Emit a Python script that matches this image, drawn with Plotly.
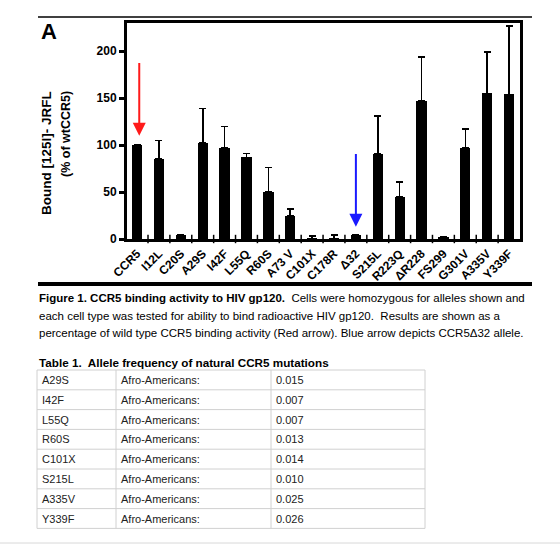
import plotly.graph_objects as go

W, H = 560, 544

# ---- chart data ----
categories = ["CCR5", "I12L", "C20S", "A29S", "I42F", "L55Q", "R60S", "A73 V", "C101X",
              "C178R", "\u039432", "S215L", "R223Q", "\u0394R228", "FS299", "G301V", "A335V", "Y339F"]
binding = [100, 85, 4, 102, 97, 87, 50, 25, 0.5, 0.5, 4, 91, 45, 147, 2, 97, 155, 154]
binding_err = [0, 20, 0, 37, 23, 4, 26, 7, 2.5, 3.5, 0, 40, 16, 47, 0, 20, 44, 73]
y_ticks = [0, 50, 100, 150, 200]

red_arrow = dict(cat=0.1, tip=110, tail=189)
blue_arrow = dict(cat=10, tip=13, tail=92)

# ---- table data ----
table_title = "Table 1.  Allele frequency of natural CCR5 mutations"
alleles = ["A29S", "I42F", "L55Q", "R60S", "C101X", "S215L", "A335V", "Y339F"]
populations = ["Afro-Americans:"] * 8
frequencies = ["0.015", "0.007", "0.007", "0.013", "0.014", "0.010", "0.025", "0.026"]

caption_lines = [
    "<b>Figure 1. CCR5 binding activity to HIV gp120.</b>  Cells were homozygous for alleles shown and",
    "each cell type was tested for ability to bind radioactive HIV gp120.  Results are shown as a",
    "percentage of wild type CCR5 binding activity (Red arrow). Blue arrow depicts CCR5\u039432 allele.",
]

FONT = "Liberation Sans, Arial, sans-serif"

def px(x):
    return x / W

def py(y):
    return 1 - y / H

fig = go.Figure()
fig.add_bar(
    x=list(range(len(categories))), y=binding, width=0.47,
    marker=dict(color="black", line=dict(width=0)),
    error_y=dict(type="data", array=binding_err, arrayminus=[0] * len(binding_err),
                 symmetric=False, color="black", thickness=1.6, width=3.5),
)

ann = []
# arrows
for arr, col in [(red_arrow, "#ff1a1a"), (blue_arrow, "#1a1aff")]:
    ann.append(dict(xref="x", yref="y", axref="x", ayref="y", x=arr["cat"], y=arr["tip"],
                    ax=arr["cat"], ay=arr["tail"], text="", showarrow=True, arrowhead=2,
                    arrowsize=1.3, arrowwidth=2, arrowcolor=col))

# panel letter
ann.append(dict(xref="paper", yref="paper", x=px(39), y=py(31), text="<b>A</b>", showarrow=False,
                xanchor="left", yanchor="middle", font=dict(size=22, color="black", family=FONT)))
# y-axis title (two lines)
ann.append(dict(xref="paper", yref="paper", x=px(46), y=py(153), text="<b>Bound [125I]- JRFL</b>",
                showarrow=False, textangle=-90, xanchor="center", yanchor="middle",
                font=dict(size=13.5, color="black", family=FONT)))
ann.append(dict(xref="paper", yref="paper", x=px(66), y=py(134), text="<b>(% of wtCCR5)</b>",
                showarrow=False, textangle=-90, xanchor="center", yanchor="middle",
                font=dict(size=12.5, color="black", family=FONT)))

# caption
for i, line in enumerate(caption_lines):
    ann.append(dict(xref="paper", yref="paper", x=px(37), y=py(298 + 17.5 * i), text=line,
                    showarrow=False, xanchor="left", yanchor="middle",
                    font=dict(size=11.5, color="black", family=FONT)))

# table title
ann.append(dict(xref="paper", yref="paper", x=px(37), y=py(362), text="<b>" + table_title + "</b>",
                showarrow=False, xanchor="left", yanchor="middle",
                font=dict(size=11.7, color="black", family=FONT)))

shapes = []
# separators
shapes.append(dict(type="line", xref="paper", yref="paper", x0=px(38), x1=px(532), y0=py(17), y1=py(17),
                   line=dict(color="black", width=1.5)))
shapes.append(dict(type="line", xref="paper", yref="paper", x0=px(38), x1=px(532), y0=py(284), y1=py(284),
                   line=dict(color="black", width=4)))
shapes.append(dict(type="line", xref="paper", yref="paper", x0=0, x1=1, y0=py(543), y1=py(543),
                   line=dict(color="#d8d8d8", width=1)))

# table
t_top, row_h = 370, 19.8
col_x = [37, 116, 271, 425]
n_rows = len(alleles)
for i in range(n_rows + 1):
    yy = t_top + i * row_h
    shapes.append(dict(type="line", xref="paper", yref="paper", x0=px(col_x[0]), x1=px(col_x[-1]),
                       y0=py(yy), y1=py(yy), line=dict(color="#d0d0d0", width=1)))
for cx in col_x:
    shapes.append(dict(type="line", xref="paper", yref="paper", x0=px(cx), x1=px(cx),
                       y0=py(t_top), y1=py(t_top + n_rows * row_h), line=dict(color="#d0d0d0", width=1)))
for i, row in enumerate(zip(alleles, populations, frequencies)):
    yc = t_top + (i + 0.5) * row_h
    for j, txt in enumerate(row):
        ann.append(dict(xref="paper", yref="paper", x=px(col_x[j] + 3), y=py(yc), text=txt,
                        showarrow=False, xanchor="left", yanchor="middle",
                        font=dict(size=11, color="#222", family=FONT)))

fig.update_layout(
    width=W, height=H, template="none",
    margin=dict(l=0, r=0, t=0, b=0),
    paper_bgcolor="white", plot_bgcolor="white",
    showlegend=False, bargap=0,
    font=dict(family=FONT, color="black"),
    xaxis=dict(domain=[px(127), px(520)], range=[-0.46, 17.5],
               tickmode="array", tickvals=list(range(len(categories))),
               ticktext=["<b>%s</b>" % c for c in categories], tickangle=-45,
               tickfont=dict(size=12, color="black", family=FONT),
               showline=True, linecolor="black", linewidth=3, mirror=True,
               ticks="", showgrid=False, zeroline=False, automargin=False),
    yaxis=dict(domain=[py(239), py(23)], range=[0, 230],
               tickmode="array", tickvals=y_ticks, ticktext=["<b>%d</b>" % v for v in y_ticks],
               tickfont=dict(size=12, color="black", family=FONT),
               showline=True, linecolor="black", linewidth=3, mirror=True,
               ticks="outside", ticklen=5, tickwidth=2.5, tickcolor="black",
               showgrid=False, zeroline=False, automargin=False),
    annotations=ann, shapes=shapes,
)

# boundary ticks on the x axis (between categories)
fig.add_scatter(x=[i + 0.5 for i in range(len(categories) - 1)], y=[0] * (len(categories) - 1),
                mode="markers", marker=dict(symbol="line-ns", size=6, line=dict(width=1.5, color="black")),
                hoverinfo="skip", cliponaxis=False)

fig.write_html("out.html")
